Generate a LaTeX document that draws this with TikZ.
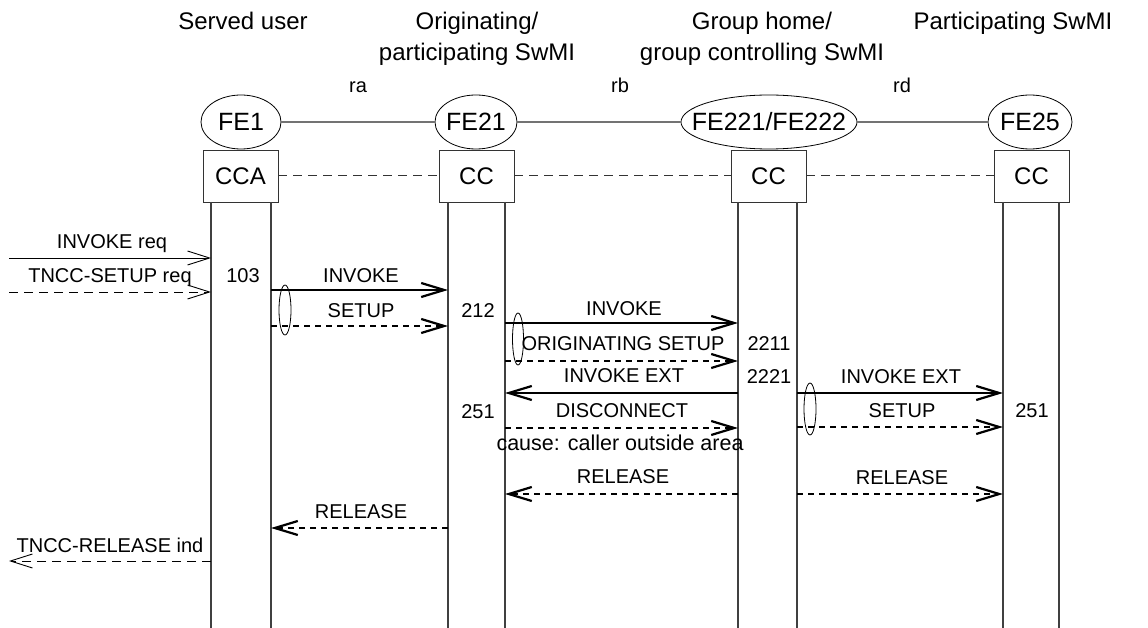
\documentclass[tikz,border=0pt]{standalone}
\usepackage{fontspec}
\setmainfont{Liberation Sans}
\usetikzlibrary{arrows.meta,shapes.geometric}
\begin{document}
\begin{tikzpicture}[x=1pt,y=-1pt,
  title/.style={font=\fontsize{24}{30}\selectfont, anchor=base, inner sep=0},
  lbl/.style={font=\fontsize{20}{24}\selectfont, anchor=base, inner sep=0},
  fe/.style={draw=black, ellipse, minimum height=54pt, inner sep=0, font=\fontsize{25}{28}\selectfont, line width=0.8pt},
  ccbox/.style={draw=black!80, minimum width=75pt, minimum height=52pt, inner sep=0, font=\fontsize{24}{28}\selectfont, line width=0.8pt},
  link/.style={draw=black!55, line width=1.5pt},
  cclink/.style={draw=black!80, line width=1pt, dash pattern=on 9pt off 6pt},
  life/.style={draw=black!75, line width=1.2pt},
  thinarr/.style={line width=0.9pt, -{Straight Barb[length=22pt,width=14pt]}},
  thickarr/.style={line width=2.2pt, -{Straight Barb[length=23pt,width=14pt]}},
  thindash/.style={thinarr, dash pattern=on 9pt off 6pt},
  thickdot/.style={thickarr, dash pattern=on 6pt off 5pt},
  grp/.style={draw, ellipse, line width=0.8pt, inner sep=0},
]
\useasboundingbox (0,0) rectangle (1148,628);

% titles
\node[title] (t1) at (243,30) {Served user};
\node[title] (t2a) at (477,30) {Originating/};
\node[title] (t2b) at (477,61) {participating SwMI};
\node[title] (t3a) at (762,30) {Group home/};
\node[title] (t3b) at (762,61) {group controlling SwMI};
\node[title] (t4) at (1013,30) {Participating SwMI};

% relation labels
\node[lbl] (ra) at (358,93) {ra};
\node[lbl] (rb) at (620,93) {rb};
\node[lbl] (rd) at (902,93) {rd};

% functional entities
\node[fe, minimum width=80pt] (fe1) at (241,122) {\makebox[0pt]{FE1}};
\node[fe, minimum width=82pt] (fe21) at (476,122) {\makebox[0pt]{FE21}};
\node[fe, minimum width=176pt] (fe221) at (769,122) {\makebox[0pt]{FE221/FE222}};
\node[fe, minimum width=84pt] (fe25) at (1030,122) {\makebox[0pt]{FE25}};
\draw[link] (fe1) -- (fe21);
\draw[link] (fe21) -- (fe221);
\draw[link] (fe221) -- (fe25);

% boxes
\node[ccbox] (cca) at (240.5,176) {CCA};
\node[ccbox] (cc1) at (476.5,176) {CC};
\node[ccbox] (cc2) at (768.5,176) {CC};
\node[ccbox] (cc3) at (1031.5,176) {CC};
\draw[cclink] (cca) -- (cc1);
\draw[cclink] (cc1) -- (cc2);
\draw[cclink] (cc2) -- (cc3);

% lifelines
\coordinate (a1) at (211,202);
\coordinate (a2) at (271,202);
\coordinate (b1) at (448,202);
\coordinate (b2) at (505,202);
\coordinate (c1) at (738,202);
\coordinate (c2) at (797,202);
\coordinate (d1) at (1003,202);
\coordinate (d2) at (1059,202);
\foreach \p in {a1,a2,b1,b2,c1,c2,d1,d2}
  \draw[life] (\p) -- (\p |- 0,628);

% external coordinates
\coordinate (e1) at (9,258);
\coordinate (e2) at (9,292);
\coordinate (e3) at (9,561);

% messages
\draw[thinarr] (e1) -- (a1 |- e1);
\node[lbl] (m1) at (112,249) {INVOKE req};
\draw[thindash] (e2) -- (a1 |- e2);
\node[lbl] (m2) at (110,283) {TNCC-SETUP req};
\node[lbl] (n103) at (243,283) {103};

\draw[thickarr] (a2 |- 0,290) -- (b1 |- 0,290);
\node[lbl] (m3) at (361,283) {INVOKE};
\draw[thickdot] (a2 |- 0,326) -- (b1 |- 0,326);
\node[lbl] (m4) at (361,317) {SETUP};
\node[grp, minimum width=12pt, minimum height=50pt] (g1) at (285,310) {};
\node[lbl] (n212) at (478,317) {212};

\draw[thickarr] (b2 |- 0,323) -- (c1 |- 0,323);
\node[lbl] (m5) at (624,316) {INVOKE};
\draw[thickdot] (b2 |- 0,361) -- (c1 |- 0,361);
\node[lbl] (m6) at (623,350) {ORIGINATING SETUP};
\node[grp, minimum width=11pt, minimum height=52pt] (g2) at (518,339) {};
\node[lbl] (n2211) at (769,350) {2211};

\draw[thickarr] (c1 |- 0,393) -- (b2 |- 0,393);
\node[lbl] (m7) at (624,382) {INVOKE EXT};
\node[lbl] (n2221) at (769,383) {2221};
\draw[thickarr] (c2 |- 0,393) -- (d1 |- 0,393);
\node[lbl] (m8) at (901,383) {INVOKE EXT};
\node[grp, minimum width=12pt, minimum height=52pt] (g3) at (810,409) {};

\node[lbl] (n251a) at (478,418) {251};
\draw[thickdot] (b2 |- 0,428) -- (c1 |- 0,428);
\node[lbl] (m9) at (622,417) {DISCONNECT};
\node[lbl, font=\fontsize{21.5}{24}\selectfont] (m10) at (620,450) {cause: caller outside area};
\draw[thickdot] (c2 |- 0,427) -- (d1 |- 0,427);
\node[lbl] (m11) at (902,417) {SETUP};
\node[lbl] (n251b) at (1032,417) {251};

\draw[thickdot] (c1 |- 0,494) -- (b2 |- 0,494);
\node[lbl] (m12) at (623,483) {RELEASE};
\draw[thickdot] (c2 |- 0,494) -- (d1 |- 0,494);
\node[lbl] (m13) at (902,484) {RELEASE};

\draw[thickdot] (b1 |- 0,528) -- (a2 |- 0,528);
\node[lbl] (m14) at (361,518) {RELEASE};
\draw[thindash] (a1 |- e3) -- (e3);
\node[lbl] (m15) at (110,552) {TNCC-RELEASE ind};
\end{tikzpicture}
\end{document}
